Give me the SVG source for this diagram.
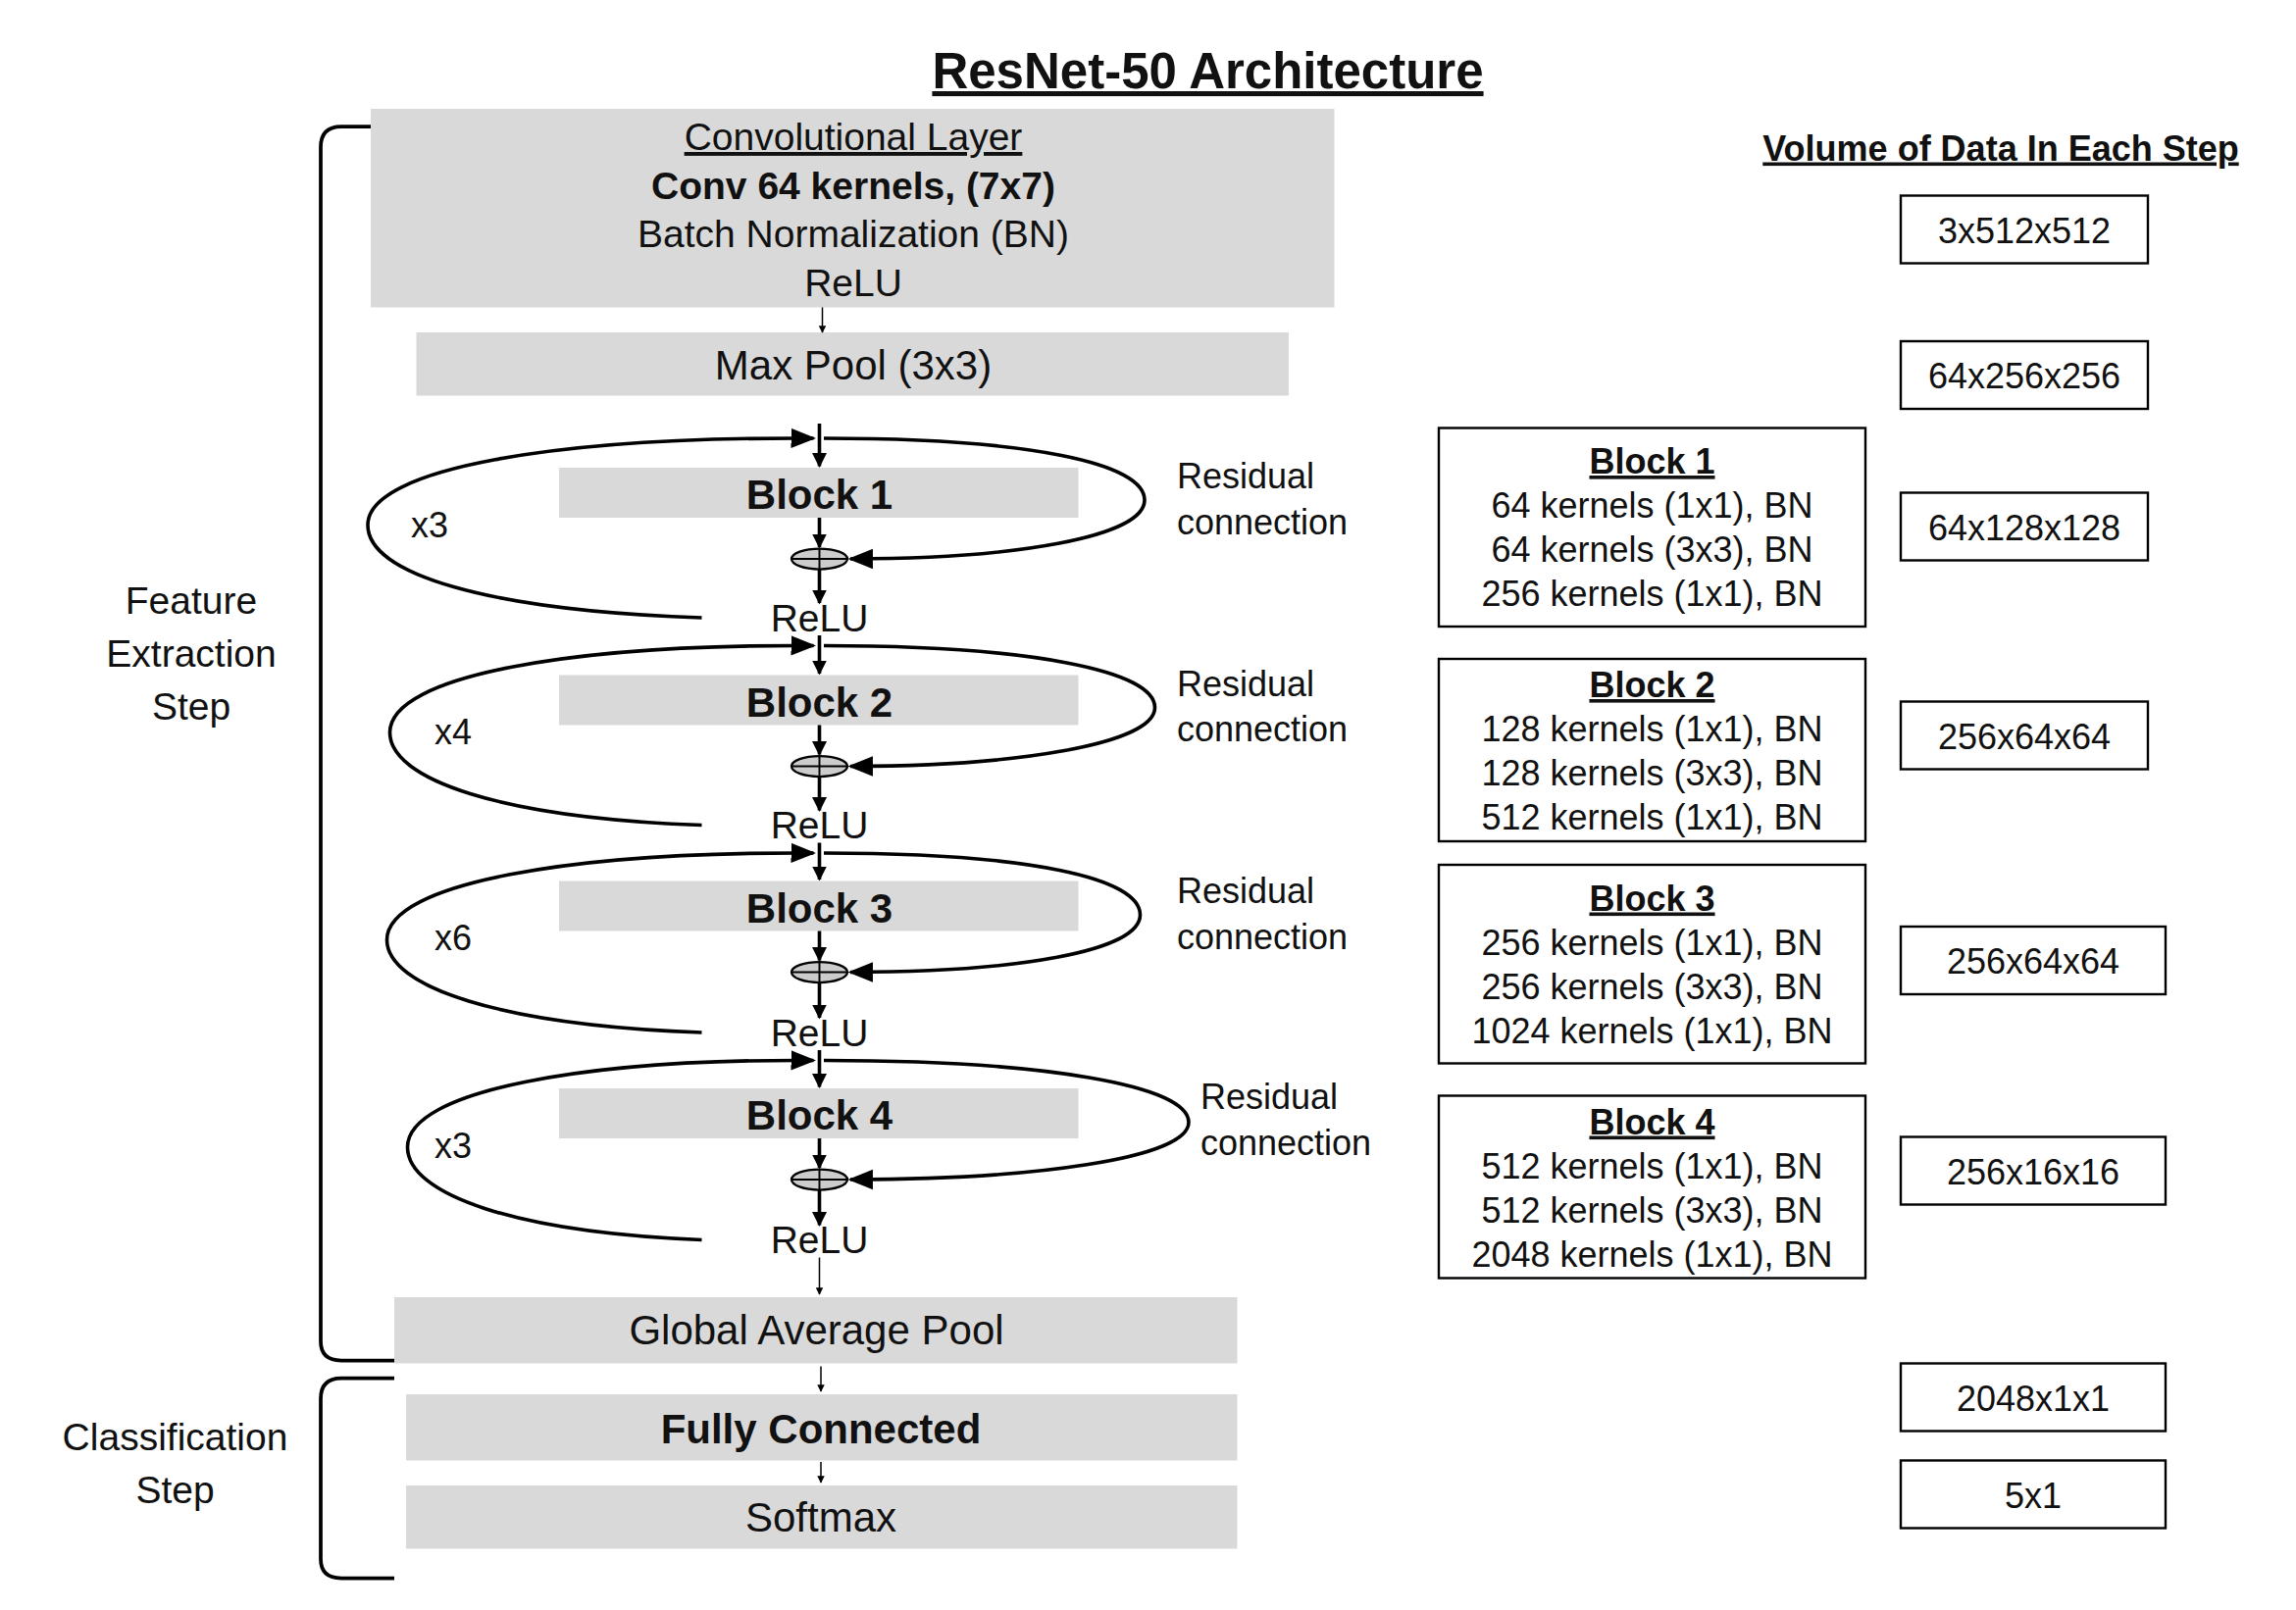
<svg xmlns="http://www.w3.org/2000/svg" width="2341" height="1642" viewBox="0 0 2341 1642">
<defs>
<marker id="ah" viewBox="0 0 10 10" refX="9" refY="5" markerWidth="10" markerHeight="12" markerUnits="userSpaceOnUse" orient="auto"><path d="M0,0 L10,5 L0,10 z" fill="#000"/></marker>
<marker id="as" viewBox="0 0 10 10" refX="9" refY="5" markerWidth="5" markerHeight="5" markerUnits="userSpaceOnUse" orient="auto"><path d="M0,0 L10,5 L0,10 z" fill="#000"/></marker>
<marker id="ab" viewBox="0 0 10 10" refX="9" refY="5" markerWidth="17" markerHeight="17" markerUnits="userSpaceOnUse" orient="auto"><path d="M0,1 L10,5 L0,9 z" fill="#000"/></marker>
</defs>
<style>
text{font-family:"Liberation Sans",Arial,sans-serif;fill:#111;text-anchor:middle}
.g{fill:#d9d9d9}
.t{font-size:26px}
.b{font-size:28px;font-weight:bold}
.i{font-size:24px}
.l{font-size:26px;text-anchor:start}
.box{fill:#fff;stroke:#000;stroke-width:1.6}
.ln{fill:none;stroke:#000;stroke-width:2.4}
.th{fill:none;stroke:#000;stroke-width:1}
.br{fill:none;stroke:#000;stroke-width:2.5}
</style>
<rect width="2341" height="1642" fill="#fff"/>
<g transform="scale(1.5)">
<g id="title"><text x="821" y="60" style="font-size:34px;font-weight:bold;text-decoration:underline">ResNet-50 Architecture</text></g>
<g id="conv"><rect class="g" x="252" y="74" width="655" height="135"/>
<text class="t" x="580" y="102" style="text-decoration:underline">Convolutional Layer</text>
<text class="t" x="580" y="135" style="font-weight:bold">Conv 64 kernels, (7x7)</text>
<text class="t" x="580" y="168">Batch Normalization (BN)</text>
<text class="t" x="580" y="201">ReLU</text></g>
<g id="maxpool"><rect class="g" x="283" y="226" width="593" height="43"/><text class="t" x="580" y="258" style="font-size:28px">Max Pool (3x3)</text></g>
<g id="block1"><rect class="g" x="380" y="318" width="353" height="34"/><text class="b" x="557" y="346">Block 1</text></g>
<g id="block2"><rect class="g" x="380" y="459" width="353" height="34"/><text class="b" x="557" y="487">Block 2</text></g>
<g id="block3"><rect class="g" x="380" y="599" width="353" height="34"/><text class="b" x="557" y="627">Block 3</text></g>
<g id="block4"><rect class="g" x="380" y="740" width="353" height="34"/><text class="b" x="557" y="768">Block 4</text></g>
<g id="gap"><rect class="g" x="268" y="882" width="573" height="45"/><text class="t" x="555" y="914" style="font-size:28px">Global Average Pool</text></g>
<g id="fc"><rect class="g" x="276" y="948" width="565" height="45"/><text class="b" x="558" y="981">Fully Connected</text></g>
<g id="softmax"><rect class="g" x="276" y="1010" width="565" height="43"/><text class="t" x="558" y="1041" style="font-size:28px">Softmax</text></g>
<g id="adders">
<g transform="translate(557,380)"><ellipse rx="19" ry="7" fill="#ccc" stroke="#000" stroke-width="1.5"/><path d="M-19,0 H19 M0,-7 V7" stroke="#000" stroke-width="1.3"/></g>
<g transform="translate(557,521)"><ellipse rx="19" ry="7" fill="#ccc" stroke="#000" stroke-width="1.5"/><path d="M-19,0 H19 M0,-7 V7" stroke="#000" stroke-width="1.3"/></g>
<g transform="translate(557,661)"><ellipse rx="19" ry="7" fill="#ccc" stroke="#000" stroke-width="1.5"/><path d="M-19,0 H19 M0,-7 V7" stroke="#000" stroke-width="1.3"/></g>
<g transform="translate(557,802)"><ellipse rx="19" ry="7" fill="#ccc" stroke="#000" stroke-width="1.5"/><path d="M-19,0 H19 M0,-7 V7" stroke="#000" stroke-width="1.3"/></g>
</g>
<g id="labels">
<text class="t" x="557" y="429">ReLU</text><text class="t" x="557" y="570">ReLU</text><text class="t" x="557" y="711">ReLU</text><text class="t" x="557" y="852">ReLU</text>
<text class="i" x="292" y="365">x3</text><text class="i" x="308" y="506">x4</text><text class="i" x="308" y="646">x6</text><text class="i" x="308" y="787">x3</text>
<text class="l" x="800" y="332" style="font-size:24px">Residual</text><text class="l" x="800" y="363" style="font-size:24px">connection</text>
<text class="l" x="800" y="473" style="font-size:24px">Residual</text><text class="l" x="800" y="504" style="font-size:24px">connection</text>
<text class="l" x="800" y="614" style="font-size:24px">Residual</text><text class="l" x="800" y="645" style="font-size:24px">connection</text>
<text class="l" x="816" y="754" style="font-size:24px">Residual</text><text class="l" x="816" y="785" style="font-size:24px">connection</text>
<text class="t" x="130" y="417">Feature</text><text class="t" x="130" y="453">Extraction</text><text class="t" x="130" y="489">Step</text>
<text class="t" x="119" y="986">Classification</text><text class="t" x="119" y="1022">Step</text>
</g>
<g id="connectors">
<path class="th" d="M559,209 V226" marker-end="url(#as)"/>
<path class="th" d="M557,855 V880" marker-end="url(#as)"/>
<path class="th" d="M558,929 V946" marker-end="url(#as)"/>
<path class="th" d="M558,994 V1008" marker-end="url(#as)"/>
<g class="ln">
<path d="M557,288 V317" marker-end="url(#ah)"/><path d="M557,352 V372" marker-end="url(#ah)"/><path d="M557,387 V410" marker-end="url(#ah)"/>
<path d="M557,432 V458" marker-end="url(#ah)"/><path d="M557,493 V513" marker-end="url(#ah)"/><path d="M557,528 V551" marker-end="url(#ah)"/>
<path d="M557,573 V598" marker-end="url(#ah)"/><path d="M557,633 V653" marker-end="url(#ah)"/><path d="M557,668 V692" marker-end="url(#ah)"/>
<path d="M557,714 V739" marker-end="url(#ah)"/><path d="M557,774 V794" marker-end="url(#ah)"/><path d="M557,809 V833" marker-end="url(#ah)"/>
<path d="M477,420 C330,415 250,390 250,357 C250,318 380,297 553,298" marker-end="url(#ab)"/>
<path d="M560,298 C700,298 778,315 778,340 C778,365 690,380 578,380" marker-end="url(#ab)"/>
<path d="M477,561 C340,556 265,530 265,498 C265,459 390,438 553,439" marker-end="url(#ab)"/>
<path d="M560,439 C700,439 785,456 785,481 C785,506 690,521 578,521" marker-end="url(#ab)"/>
<path d="M477,702 C340,697 263,671 263,639 C263,600 390,579 553,580" marker-end="url(#ab)"/>
<path d="M560,580 C700,580 775,597 775,622 C775,647 690,661 578,661" marker-end="url(#ab)"/>
<path d="M477,843 C350,838 277,812 277,780 C277,741 400,720 553,721" marker-end="url(#ab)"/>
<path d="M560,721 C710,721 808,738 808,763 C808,788 700,802 578,802" marker-end="url(#ab)"/>
</g>
</g>
<g id="brackets">
<path class="br" d="M252,86 H232 Q218,86 218,100 V912 Q218,925 232,925 H268"/>
<path class="br" d="M268,937 H232 Q218,937 218,951 V1060 Q218,1073 232,1073 H268"/>
</g>
<g id="info1"><rect class="box" x="978" y="291" width="290" height="135"/>
<text class="i" x="1123" y="322" style="font-weight:bold;text-decoration:underline">Block 1</text>
<text class="i" x="1123" y="352">64 kernels (1x1), BN</text><text class="i" x="1123" y="382">64 kernels (3x3), BN</text><text class="i" x="1123" y="412">256 kernels (1x1), BN</text></g>
<g id="info2"><rect class="box" x="978" y="448" width="290" height="124"/>
<text class="i" x="1123" y="474" style="font-weight:bold;text-decoration:underline">Block 2</text>
<text class="i" x="1123" y="504">128 kernels (1x1), BN</text><text class="i" x="1123" y="534">128 kernels (3x3), BN</text><text class="i" x="1123" y="564">512 kernels (1x1), BN</text></g>
<g id="info3"><rect class="box" x="978" y="588" width="290" height="135"/>
<text class="i" x="1123" y="619" style="font-weight:bold;text-decoration:underline">Block 3</text>
<text class="i" x="1123" y="649">256 kernels (1x1), BN</text><text class="i" x="1123" y="679">256 kernels (3x3), BN</text><text class="i" x="1123" y="709">1024 kernels (1x1), BN</text></g>
<g id="info4"><rect class="box" x="978" y="745" width="290" height="124"/>
<text class="i" x="1123" y="771" style="font-weight:bold;text-decoration:underline">Block 4</text>
<text class="i" x="1123" y="801">512 kernels (1x1), BN</text><text class="i" x="1123" y="831">512 kernels (3x3), BN</text><text class="i" x="1123" y="861">2048 kernels (1x1), BN</text></g>
<g id="volumes">
<text class="i" x="1360" y="109" style="font-weight:bold;text-decoration:underline">Volume of Data In Each Step</text>
<rect class="box" x="1292" y="133" width="168" height="46"/><text class="i" x="1376" y="165">3x512x512</text>
<rect class="box" x="1292" y="232" width="168" height="46"/><text class="i" x="1376" y="264">64x256x256</text>
<rect class="box" x="1292" y="335" width="168" height="46"/><text class="i" x="1376" y="367">64x128x128</text>
<rect class="box" x="1292" y="477" width="168" height="46"/><text class="i" x="1376" y="509">256x64x64</text>
<rect class="box" x="1292" y="630" width="180" height="46"/><text class="i" x="1382" y="662">256x64x64</text>
<rect class="box" x="1292" y="773" width="180" height="46"/><text class="i" x="1382" y="805">256x16x16</text>
<rect class="box" x="1292" y="927" width="180" height="46"/><text class="i" x="1382" y="959">2048x1x1</text>
<rect class="box" x="1292" y="993" width="180" height="46"/><text class="i" x="1382" y="1025">5x1</text>
</g>
</g>
</svg>
